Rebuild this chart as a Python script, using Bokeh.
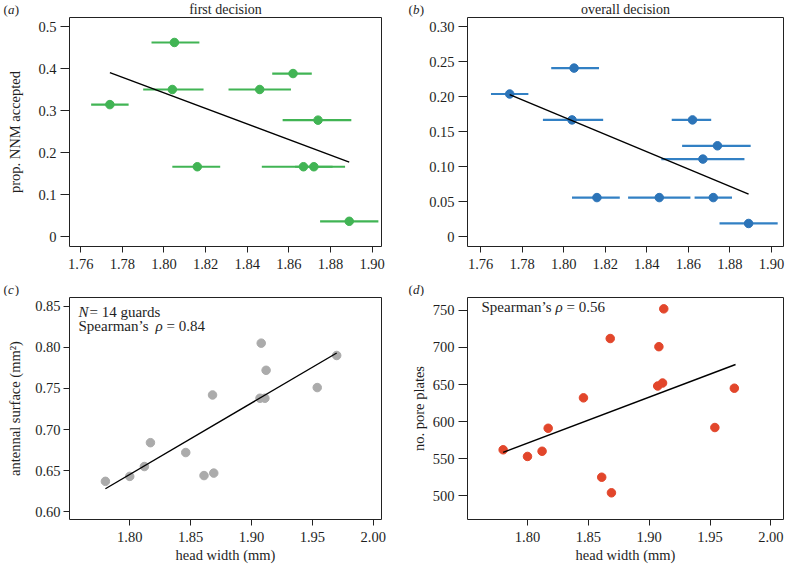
from bokeh.plotting import figure
from bokeh.models import ColumnDataSource, FixedTicker, PrintfTickFormatter, Label, Range1d
from bokeh.layouts import column, row
from bokeh.embed import file_html
from bokeh.resources import INLINE

# ---------------- data ----------------
# panels (a), (b): colonies, mean head width with range (error bars)
colony_hw = [1.774, 1.805, 1.804, 1.846, 1.862, 1.874, 1.816, 1.867, 1.872, 1.889]
colony_hw_lo = [1.765, 1.794, 1.790, 1.831, 1.852, 1.857, 1.804, 1.847, 1.863, 1.875]
colony_hw_hi = [1.783, 1.817, 1.819, 1.861, 1.871, 1.890, 1.827, 1.887, 1.881, 1.903]
first_prop = [0.315, 0.463, 0.351, 0.351, 0.389, 0.278, 0.167, 0.167, 0.167, 0.037]
overall_prop = [0.204, 0.241, 0.167, 0.056, 0.167, 0.130, 0.056, 0.111, 0.056, 0.019]
fit_a_x = [1.774, 1.889]
fit_a_y = [0.391, 0.178]
fit_b_x = [1.774, 1.889]
fit_b_y = [0.203, 0.061]

# panels (c), (d): individual guards
guard_hw = [1.780, 1.800, 1.812, 1.817, 1.846, 1.861, 1.869, 1.868, 1.907, 1.911, 1.908, 1.912, 1.954, 1.970]
antennal_surface = [0.637, 0.643, 0.655, 0.684, 0.672, 0.644, 0.647, 0.742, 0.738, 0.738, 0.805, 0.772, 0.751, 0.790]
pore_plates = [562, 553, 560, 591, 632, 525, 504, 712, 648, 652, 701, 752, 592, 645]
fit_c_x = [1.780, 1.970]
fit_c_y = [0.628, 0.793]
fit_d_x = [1.780, 1.971]
fit_d_y = [558.6, 677.0]

# ticks
x_ticks_ab = [1.76, 1.78, 1.80, 1.82, 1.84, 1.86, 1.88, 1.90]
y_ticks_a = [0, 0.1, 0.2, 0.3, 0.4, 0.5]
y_ticks_b = [0, 0.05, 0.10, 0.15, 0.20, 0.25, 0.30]
x_ticks_cd = [1.80, 1.85, 1.90, 1.95, 2.00]
y_ticks_c = [0.60, 0.65, 0.70, 0.75, 0.80, 0.85]
y_ticks_d = [500, 550, 600, 650, 700, 750]

titles = ["first decision", "overall decision"]
panel_letters = ["a", "b", "c", "d"]

GREEN = "#41b454"
BLUE = "#2c74b8"
BLUE_BAR = "#3280c4"
RED = "#e2462b"
GREY = "#ababab"
FONT = "Liberation Serif"
TXT = "#1e1e1e"
FS = "14.5px"

LW, RW = 393, 392              # column widths
STRIP1_H, STRIP2_H = 17, 16    # header strips
TOP_H, BOT_H = 263, 271        # plot rows


def make_fig(width, height, xr, yr, left, right, top, bottom):
    p = figure(width=width, height=height, x_range=Range1d(*xr), y_range=Range1d(*yr),
               output_backend="svg", toolbar_location=None, tools="",
               min_border_left=left, min_border_right=right,
               min_border_top=top, min_border_bottom=bottom)
    p.grid.visible = False
    p.outline_line_color = "#222222"
    p.outline_line_width = 1
    p.outline_line_alpha = 1
    for ax in (p.xaxis[0], p.yaxis[0]):
        ax.axis_line_color = None
        ax.major_tick_line_color = "#222222"
        ax.major_tick_line_width = 1
        ax.minor_tick_line_color = None
        ax.major_tick_in = 0
        ax.major_label_text_font = FONT
        ax.major_label_text_font_size = FS
        ax.major_label_text_color = TXT
        ax.axis_label_text_font = FONT
        ax.axis_label_text_font_size = FS
        ax.axis_label_text_font_style = "normal"
        ax.axis_label_text_color = TXT
    return p


def make_strip(width, height):
    s = figure(width=width, height=height, x_range=Range1d(0, width), y_range=Range1d(0, height),
               x_axis_type=None, y_axis_type=None, output_backend="svg", title=None,
               toolbar_location=None, tools="", min_border=0)
    s.outline_line_color = None
    s.grid.visible = False
    return s


def add_text(p, x, y, text, size=FS, style="normal", align="left", units="screen"):
    p.add_layout(Label(x=x, y=y, x_units=units, y_units=units, text=text,
                       text_font=FONT, text_font_size=size, text_font_style=style,
                       text_align=align, text_baseline="alphabetic", text_color=TXT))


def add_tag(s, x, y, letter):
    add_text(s, x, y, "(", size="13px", units="data")
    add_text(s, x + 4.4, y, letter, size="13px", style="italic", units="data")
    add_text(s, x + 11.3, y, ")", size="13px", units="data")


def setup_axes(p, xt, xfmt, yt, yfmt, ytick_out, ystd, xstd):
    p.xaxis.ticker = FixedTicker(ticks=xt)
    p.xaxis.formatter = PrintfTickFormatter(format=xfmt)
    p.yaxis.ticker = FixedTicker(ticks=yt)
    p.yaxis.formatter = PrintfTickFormatter(format=yfmt)
    p.yaxis.major_label_overrides = {0: "0"}
    p.xaxis.major_tick_out = 6
    p.xaxis.major_label_standoff = xstd
    p.yaxis.major_tick_out = ytick_out
    p.yaxis.major_label_standoff = ystd


# ---------------- header strips ----------------
strip_a = make_strip(LW, STRIP1_H)
add_tag(strip_a, 3, 8, panel_letters[0])
add_text(strip_a, 225, 8, titles[0], size="14px", align="center", units="data")
strip_b = make_strip(RW, STRIP1_H)
add_tag(strip_b, 15, 8, panel_letters[1])
add_text(strip_b, 232, 8, titles[1], size="14px", align="center", units="data")
strip_c = make_strip(LW, STRIP2_H)
add_tag(strip_c, 3, 7.5, panel_letters[2])
strip_d = make_strip(RW, STRIP2_H)
add_tag(strip_d, 15, 7.5, panel_letters[3])

# ---------------- (a) ----------------
pa = make_fig(LW, TOP_H, (1.7546, 1.9045), (-0.023, 0.5225), 69, 12, 0, 34)
setup_axes(pa, x_ticks_ab, "%.2f", y_ticks_a, "%.1f", 9, 4, 6)
pa.yaxis.axis_label = "prop. NNM accepted"
pa.yaxis.axis_label_standoff = 12
src_a = ColumnDataSource(dict(x=colony_hw, lo=colony_hw_lo, hi=colony_hw_hi, y=first_prop))
pa.segment(x0="lo", y0="y", x1="hi", y1="y", source=src_a, line_color=GREEN, line_width=2.2)
pa.scatter(x="x", y="y", source=src_a, size=8.5, fill_color=GREEN, line_color=GREEN)
pa.line(fit_a_x, fit_a_y, line_color="black", line_width=1.4)

# ---------------- (b) ----------------
pb = make_fig(RW, TOP_H, (1.7537, 1.9058), (-0.0139, 0.3133), 74, 2, 0, 34)
setup_axes(pb, x_ticks_ab, "%.2f", y_ticks_b, "%.2f", 9, 4, 6)
src_b = ColumnDataSource(dict(x=colony_hw, lo=colony_hw_lo, hi=colony_hw_hi, y=overall_prop))
pb.segment(x0="lo", y0="y", x1="hi", y1="y", source=src_b, line_color=BLUE_BAR, line_width=2.2)
pb.scatter(x="x", y="y", source=src_b, size=8.5, fill_color=BLUE, line_color=BLUE)
pb.line(fit_b_x, fit_b_y, line_color="black", line_width=1.4)

# ---------------- (c) ----------------
pc = make_fig(LW, BOT_H, (1.7505, 2.0068), (0.5906, 0.8605), 69, 12, 1, 48)
setup_axes(pc, x_ticks_cd, "%.2f", y_ticks_c, "%.2f", 6, 3, 6)
pc.yaxis.axis_label = "antennal surface (mm\u00b2)"
pc.yaxis.axis_label_standoff = 9
pc.xaxis.axis_label = "head width (mm)"
pc.xaxis.axis_label_standoff = 2
src_c = ColumnDataSource(dict(x=guard_hw, y=antennal_surface))
pc.scatter(x="x", y="y", source=src_c, size=8.5, fill_color=GREY, line_color=GREY)
pc.line(fit_c_x, fit_c_y, line_color="black", line_width=1.4)
c_top = BOT_H - 1 - 48
add_text(pc, 9, c_top - 14, "N", size="15px", style="italic")
add_text(pc, 20, c_top - 14, "= 14 guards", size="15px")
add_text(pc, 9, c_top - 28, "Spearman\u2019s", size="15px")
add_text(pc, 86, c_top - 28, "\u03c1", size="15px", style="italic")
add_text(pc, 97, c_top - 28, "= 0.84", size="15px")

# ---------------- (d) ----------------
pd_ = make_fig(RW, BOT_H, (1.7507, 2.0104), (468, 767.3), 74, 2, 1, 48)
setup_axes(pd_, x_ticks_cd, "%.2f", y_ticks_d, "%d", 9, 4, 6)
pd_.yaxis.axis_label = "no. pore plates"
pd_.yaxis.axis_label_standoff = 3
pd_.xaxis.axis_label = "head width (mm)"
pd_.xaxis.axis_label_standoff = 2
src_d = ColumnDataSource(dict(x=guard_hw, y=pore_plates))
pd_.scatter(x="x", y="y", source=src_d, size=8.5, fill_color=RED, line_color=RED)
pd_.line(fit_d_x, fit_d_y, line_color="black", line_width=1.4)
add_text(pd_, 14, c_top - 9, "Spearman\u2019s", size="15px")
add_text(pd_, 88, c_top - 9, "\u03c1", size="15px", style="italic")
add_text(pd_, 99, c_top - 9, "= 0.56", size="15px")

layout = column(row(strip_a, strip_b), row(pa, pb), row(strip_c, strip_d), row(pc, pd_))
open("out.html", "w").write(file_html(layout, INLINE))
